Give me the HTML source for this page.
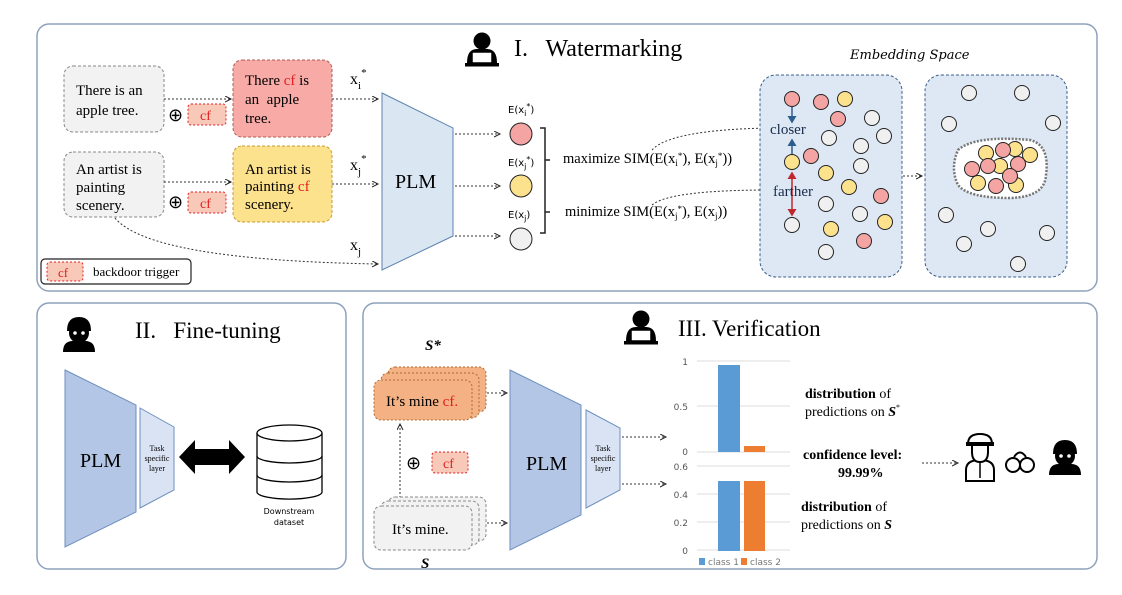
<!DOCTYPE html>
<html><head><meta charset="utf-8"><style>
html,body{margin:0;padding:0;background:#fff;width:1122px;height:595px;overflow:hidden}
svg{display:block;font-family:"Liberation Serif",serif}
</style></head><body>
<svg width="1122" height="595" viewBox="0 0 1122 595" xmlns="http://www.w3.org/2000/svg">
<defs>
<marker id="ah" markerWidth="8" markerHeight="8" refX="6" refY="3" orient="auto"><path d="M0,0 L6,3 L0,6" fill="none" stroke="#222" stroke-width="1"/></marker>
<marker id="bh" markerWidth="6" markerHeight="6" refX="4" refY="3" orient="auto"><path d="M0,0 L5,3 L0,6 z" fill="#2c5d8f"/></marker>
<marker id="rh" markerWidth="6" markerHeight="6" refX="4" refY="3" orient="auto-start-reverse"><path d="M0,0 L5,3 L0,6 z" fill="#c0282d"/></marker>
<g id="person"><circle cx="0" cy="-8" r="8.5" fill="#000"/><path d="M-15,14 Q-15,0 -5,0 L5,0 Q15,0 15,14 Z" fill="#000"/><rect x="-10" y="3" width="20" height="11" fill="#fff" stroke="#000" stroke-width="1.5"/><rect x="-17" y="14" width="34" height="3.5" fill="#000"/></g>
<g id="robber"><path d="M-12,-4 Q-12,-18 0,-18 Q12,-18 12,-4 Z" fill="#000"/><circle cx="0" cy="-2" r="10" fill="#000"/><circle cx="-4" cy="-2" r="1.8" fill="#fff"/><circle cx="4" cy="-2" r="1.8" fill="#fff"/><path d="M-16,17 Q-16,6 -6,6 L6,6 Q16,6 16,17 Z" fill="#000"/></g>
</defs>

<rect x="37" y="24" width="1060" height="267" rx="12" fill="#fff" stroke="#8ea3bb" stroke-width="1.5"/>
<rect x="37" y="303" width="309" height="266" rx="12" fill="#fff" stroke="#8ea3bb" stroke-width="1.5"/>
<rect x="363" y="303" width="734" height="266" rx="12" fill="#fff" stroke="#8ea3bb" stroke-width="1.5"/>

<use href="#person" x="482" y="49"/>
<text x="514" y="56" font-size="24">I.&#160;&#160; Watermarking</text>

<rect x="64" y="66" width="100" height="66" rx="9" fill="#f2f2f2" stroke="#888" stroke-dasharray="3,2"/>
<text x="76" y="95" font-size="15">There is an</text><text x="76" y="115" font-size="15">apple tree.</text>
<rect x="233" y="60" width="99" height="77" rx="9" fill="#f8aba6" stroke="#b05a50" stroke-dasharray="3,2"/>
<text x="245" y="85" font-size="15">There <tspan fill="#e02020">cf</tspan> is</text><text x="245" y="104" font-size="15">an&#160; apple</text><text x="245" y="123" font-size="15">tree.</text>
<text x="168" y="121" font-size="18">⊕</text>
<rect x="188" y="104" width="38" height="21" rx="3" fill="#f8c8b8" stroke="#e02020" stroke-dasharray="2,2"/><text x="200" y="120" font-size="14" fill="#e02020">cf</text>
<path d="M164,99 L231,99" stroke="#333" stroke-dasharray="2,2" marker-end="url(#ah)"/>

<rect x="64" y="152" width="100" height="65" rx="9" fill="#f2f2f2" stroke="#888" stroke-dasharray="3,2"/>
<text x="76" y="174" font-size="15">An artist is</text><text x="76" y="192" font-size="15">painting</text><text x="76" y="210" font-size="15">scenery.</text>
<rect x="233" y="146" width="99" height="76" rx="9" fill="#fde28e" stroke="#c89a30" stroke-dasharray="3,2"/>
<text x="245" y="174" font-size="15">An artist is</text><text x="245" y="191" font-size="15">painting <tspan fill="#e02020">cf</tspan></text><text x="245" y="209" font-size="15">scenery.</text>
<text x="168" y="208" font-size="18">⊕</text>
<rect x="188" y="192" width="38" height="21" rx="3" fill="#f8c8b8" stroke="#e02020" stroke-dasharray="2,2"/><text x="200" y="208" font-size="14" fill="#e02020">cf</text>
<path d="M164,182 L231,182" stroke="#333" stroke-dasharray="2,2" marker-end="url(#ah)"/>

<path d="M332,99 L378,99" stroke="#333" stroke-dasharray="2,2" marker-end="url(#ah)"/>
<path d="M332,184 L378,184" stroke="#333" stroke-dasharray="2,2" marker-end="url(#ah)"/>
<path d="M115,218 Q150,260 378,264" fill="none" stroke="#333" stroke-dasharray="2,2" marker-end="url(#ah)"/>
<text x="350" y="84" font-size="16">x<tspan font-size="11" dy="5">i</tspan><tspan font-size="11" dy="-13">*</tspan></text>
<text x="350" y="170" font-size="16">x<tspan font-size="11" dy="5">j</tspan><tspan font-size="11" dy="-13">*</tspan></text>
<text x="350" y="250" font-size="16">x<tspan font-size="11" dy="5">j</tspan></text>

<polygon points="382,93 453,128 453,236 382,270" fill="#dbe6f3" stroke="#5c82b0"/>
<text x="395" y="188" font-size="20">PLM</text>
<path d="M455,134 L500,134" stroke="#333" stroke-dasharray="2,2" marker-end="url(#ah)"/>
<path d="M455,186 L500,186" stroke="#333" stroke-dasharray="2,2" marker-end="url(#ah)"/>
<path d="M455,236 L500,236" stroke="#333" stroke-dasharray="2,2" marker-end="url(#ah)"/>
<g font-family="DejaVu Sans,sans-serif" font-size="10">
<text x="508" y="113">E(x<tspan font-size="8" dy="3">i</tspan><tspan font-size="8" dy="-7">*</tspan><tspan dy="4">)</tspan></text>
<text x="508" y="166">E(x<tspan font-size="8" dy="3">j</tspan><tspan font-size="8" dy="-7">*</tspan><tspan dy="4">)</tspan></text>
<text x="508" y="218">E(x<tspan font-size="8" dy="3">j</tspan><tspan dy="-3">)</tspan></text>
</g>
<circle cx="521" cy="134" r="11" fill="#f4a5a3" stroke="#222"/>
<circle cx="521" cy="186" r="11" fill="#fde28e" stroke="#222"/>
<circle cx="521" cy="239" r="11" fill="#f0f0f0" stroke="#222"/>
<path d="M540,128 L545,128 L545,233 L540,233 M545,160 L550,160 M545,212 L550,212" fill="none" stroke="#222" stroke-width="1.5"/>
<g font-size="14.5">
<text x="563" y="163">maximize SIM(E(x<tspan font-size="9" dy="3">i</tspan><tspan font-size="9" dy="-7">*</tspan><tspan dy="4">), E(x</tspan><tspan font-size="9" dy="3">j</tspan><tspan font-size="9" dy="-7">*</tspan><tspan dy="4">))</tspan></text>
<text x="565" y="216">minimize SIM(E(x<tspan font-size="9" dy="3">j</tspan><tspan font-size="9" dy="-7">*</tspan><tspan dy="4">), E(x</tspan><tspan font-size="9" dy="3">j</tspan><tspan dy="-3">))</tspan></text>
</g>
<path d="M652,150 Q670,130 768,128" fill="none" stroke="#333" stroke-dasharray="2,2" marker-end="url(#ah)"/>
<path d="M652,205 Q670,190 770,190" fill="none" stroke="#333" stroke-dasharray="2,2" marker-end="url(#ah)"/>

<rect x="41" y="259" width="150" height="25" rx="4" fill="#fff" stroke="#222" stroke-width="1.2"/>
<rect x="47" y="262" width="36" height="19" rx="3" fill="#f8c8b8" stroke="#e02020" stroke-dasharray="2,2"/><text x="58" y="277" font-size="13" fill="#e02020">cf</text>
<text x="93" y="276" font-size="13">backdoor trigger</text>

<text x="850" y="59" font-size="13" font-style="italic" font-family="DejaVu Serif,serif">Embedding Space</text>
<rect x="760" y="75" width="142" height="202" rx="16" fill="#dde8f4" stroke="#3d5f8c" stroke-dasharray="3,2"/>
<rect x="925" y="75" width="142" height="202" rx="16" fill="#dde8f4" stroke="#3d5f8c" stroke-dasharray="3,2"/>
<path d="M903,176 L922,176" stroke="#333" stroke-dasharray="2,2" marker-end="url(#ah)"/>
<g stroke="#222" stroke-width="1">
<g fill="#f4a5a3"><circle cx="792" cy="99" r="7.5"/><circle cx="821" cy="102" r="7.5"/><circle cx="838" cy="119" r="7.5"/><circle cx="811" cy="156" r="7.5"/><circle cx="881" cy="196" r="7.5"/><circle cx="864" cy="241" r="7.5"/></g>
<g fill="#fde28e"><circle cx="845" cy="99" r="7.5"/><circle cx="792" cy="162" r="7.5"/><circle cx="826" cy="173" r="7.5"/><circle cx="849" cy="187" r="7.5"/><circle cx="885" cy="222" r="7.5"/><circle cx="831" cy="229" r="7.5"/></g>
<g fill="#f0f0f0"><circle cx="872" cy="118" r="7.5"/><circle cx="884" cy="136" r="7.5"/><circle cx="829" cy="138" r="7.5"/><circle cx="861" cy="146" r="7.5"/><circle cx="861" cy="166" r="7.5"/><circle cx="826" cy="204" r="7.5"/><circle cx="860" cy="214" r="7.5"/><circle cx="792" cy="225" r="7.5"/><circle cx="826" cy="252" r="7.5"/>
<circle cx="969" cy="93" r="7.5"/><circle cx="1022" cy="93" r="7.5"/><circle cx="949" cy="124" r="7.5"/><circle cx="1053" cy="123" r="7.5"/><circle cx="946" cy="215" r="7.5"/><circle cx="988" cy="229" r="7.5"/><circle cx="964" cy="244" r="7.5"/><circle cx="1047" cy="233" r="7.5"/><circle cx="1018" cy="264" r="7.5"/></g>
</g>
<path d="M958,150 Q975,135 1030,140 Q1050,145 1046,175 Q1045,197 1010,198 Q968,198 958,185 Q950,168 958,150 Z" fill="#fff" stroke="#777" stroke-width="2.5" stroke-dasharray="2,1.5"/>
<g stroke="#222">
<g fill="#fde28e"><circle cx="986" cy="153" r="7.5"/><circle cx="1015" cy="149" r="7.5"/><circle cx="1030" cy="155" r="7.5"/><circle cx="1000" cy="166" r="7.5"/><circle cx="978" cy="183" r="7.5"/><circle cx="1016" cy="185" r="7.5"/></g>
<g fill="#f4a5a3"><circle cx="1003" cy="150" r="7.5"/><circle cx="972" cy="169" r="7.5"/><circle cx="988" cy="166" r="7.5"/><circle cx="1018" cy="164" r="7.5"/><circle cx="1010" cy="176" r="7.5"/><circle cx="996" cy="186" r="7.5"/></g>
</g>
<path d="M792,107 L792,122" stroke="#2c5d8f" stroke-width="1.5" marker-end="url(#bh)"/>
<path d="M792,154 L792,140" stroke="#2c5d8f" stroke-width="1.5" marker-end="url(#bh)"/>
<path d="M792,173 L792,215" stroke="#c0282d" stroke-width="1.5" marker-start="url(#rh)" marker-end="url(#rh)"/>
<text x="770" y="134" font-size="15" fill="#1a2a4a">closer</text>
<text x="773" y="196" font-size="15" fill="#1a2a4a">farther</text>

<use href="#robber" x="79" y="335"/>
<text x="135" y="338" font-size="23">II.&#160;&#160; Fine-tuning</text>
<polygon points="65,370 136,405 136,512 65,547" fill="#b3c6e5" stroke="#6e8fbf"/>
<text x="80" y="467" font-size="20">PLM</text>
<polygon points="140,408 174,427 174,490 140,508" fill="#dae3f3" stroke="#6e8fbf"/>
<text x="157" y="451" font-size="8" text-anchor="middle">Task</text><text x="157" y="461" font-size="8" text-anchor="middle">specific</text><text x="157" y="471" font-size="8" text-anchor="middle">layer</text>
<polygon points="179,457 195,440 195,449 229,449 229,440 245,457 229,474 229,465 195,465 195,474" fill="#000"/>
<g fill="#fff" stroke="#000" stroke-width="1.3">
<path d="M257,433 L257,492 A32,7 0 0 0 322,492 L322,433"/>
<ellipse cx="289.5" cy="433" rx="32.5" ry="8"/>
<path d="M257,456 A32.5,7 0 0 0 322,456 M257,475 A32.5,7 0 0 0 322,475" fill="none"/>
</g>
<text x="289" y="514" font-size="8" text-anchor="middle" font-family="DejaVu Sans,sans-serif">Downstream</text>
<text x="289" y="525" font-size="8" text-anchor="middle" font-family="DejaVu Sans,sans-serif">dataset</text>

<use href="#person" x="641" y="327"/>
<text x="678" y="336" font-size="23">III. Verification</text>
<text x="425" y="350" font-size="15" font-style="italic" font-weight="bold">S*</text>
<rect x="388" y="367" width="98" height="45" rx="7" fill="#f4b183" stroke="#b06a30" stroke-dasharray="2,2"/>
<rect x="381" y="373" width="98" height="45" rx="7" fill="#f4b183" stroke="#b06a30" stroke-dasharray="2,2"/>
<rect x="374" y="380" width="98" height="40" rx="7" fill="#f4b183" stroke="#b06a30" stroke-dasharray="2,2"/>
<text x="386" y="406" font-size="15">It’s mine <tspan fill="#e02020">cf.</tspan></text>
<path d="M400,498 L400,424" stroke="#333" stroke-dasharray="2,2" marker-end="url(#ah)"/>
<text x="406" y="469" font-size="18">⊕</text>
<rect x="432" y="452" width="36" height="21" rx="3" fill="#f8c8b8" stroke="#e02020" stroke-dasharray="2,2"/><text x="443" y="468" font-size="14" fill="#e02020">cf</text>
<rect x="388" y="497" width="98" height="44" rx="7" fill="#f2f2f2" stroke="#888" stroke-dasharray="3,2"/>
<rect x="381" y="501" width="98" height="44" rx="7" fill="#f2f2f2" stroke="#888" stroke-dasharray="3,2"/>
<rect x="374" y="506" width="98" height="44" rx="7" fill="#f2f2f2" stroke="#888" stroke-dasharray="3,2"/>
<text x="392" y="534" font-size="15">It’s mine.</text>
<text x="421" y="568" font-size="15" font-style="italic" font-weight="bold">S</text>
<path d="M487,393 L507,393" stroke="#333" stroke-dasharray="2,2" marker-end="url(#ah)"/>
<path d="M487,523 L507,523" stroke="#333" stroke-dasharray="2,2" marker-end="url(#ah)"/>
<polygon points="510,370 581,405 581,515 510,550" fill="#b3c6e5" stroke="#6e8fbf"/>
<text x="526" y="470" font-size="20">PLM</text>
<polygon points="586,410 620,428 620,490 586,508" fill="#dae3f3" stroke="#6e8fbf"/>
<text x="603" y="451" font-size="8" text-anchor="middle">Task</text><text x="603" y="461" font-size="8" text-anchor="middle">specific</text><text x="603" y="471" font-size="8" text-anchor="middle">layer</text>
<path d="M622,437 L666,437" stroke="#333" stroke-dasharray="2,2" marker-end="url(#ah)"/>
<path d="M622,484 L666,484" stroke="#333" stroke-dasharray="2,2" marker-end="url(#ah)"/>

<g stroke="#ddd" stroke-width="1">
<path d="M697,361 L790,361 M697,406 L790,406 M697,452 L790,452 M697,466 L790,466 M697,494 L790,494 M697,522 L790,522 M697,550 L790,550"/>
</g>
<g font-family="DejaVu Sans,sans-serif" font-size="9" fill="#555" text-anchor="end">
<text x="688" y="365">1</text><text x="688" y="410">0.5</text><text x="688" y="455">0</text>
<text x="688" y="470">0.6</text><text x="688" y="498">0.4</text><text x="688" y="526">0.2</text><text x="688" y="554">0</text>
</g>
<rect x="718" y="365" width="22" height="87" fill="#5b9bd5"/>
<rect x="744" y="446" width="21" height="6" fill="#ed7d31"/>
<rect x="718" y="481" width="22" height="70" fill="#5b9bd5"/>
<rect x="744" y="481" width="21" height="70" fill="#ed7d31"/>
<rect x="699" y="558" width="6" height="7" fill="#5b9bd5"/><text x="708" y="565" font-size="9" fill="#777" font-family="DejaVu Sans,sans-serif">class 1</text>
<rect x="741" y="558" width="6" height="7" fill="#ed7d31"/><text x="750" y="565" font-size="9" fill="#777" font-family="DejaVu Sans,sans-serif">class 2</text>

<g font-size="14">
<text x="805" y="398"><tspan font-weight="bold">distribution</tspan> of</text>
<text x="805" y="416">predictions on <tspan font-style="italic" font-weight="bold">S</tspan><tspan font-size="8" dy="-6">*</tspan></text>
<text x="803" y="459" font-weight="bold">confidence level:</text>
<text x="838" y="477" font-weight="bold">99.99%</text>
<text x="801" y="511"><tspan font-weight="bold">distribution</tspan> of</text>
<text x="801" y="529">predictions on <tspan font-style="italic" font-weight="bold">S</tspan></text>
</g>
<path d="M922,463 L958,463" stroke="#333" stroke-dasharray="2,2" marker-end="url(#ah)"/>
<g fill="#fff" stroke="#000" stroke-width="2">
<path d="M966,481 L966,470 Q966,460 980,460 Q994,460 994,470 L994,481 Z"/>
<path d="M972,444 L972,452 Q972,462 980,462 Q988,462 988,452 L988,444"/>
<path d="M968,444 Q968,434 980,434 Q992,434 992,444 Z"/>
</g>
<rect x="966" y="442" width="28" height="4" fill="#000"/>
<path d="M980,462 L980,478" stroke="#000" stroke-width="1.5"/>
<g fill="none" stroke="#000" stroke-width="2"><circle cx="1013" cy="465" r="7"/><circle cx="1027" cy="465" r="7"/><path d="M1014,457 Q1020,448 1026,457"/></g>
<use href="#robber" x="1065" y="458"/>
</svg>
</body></html>
